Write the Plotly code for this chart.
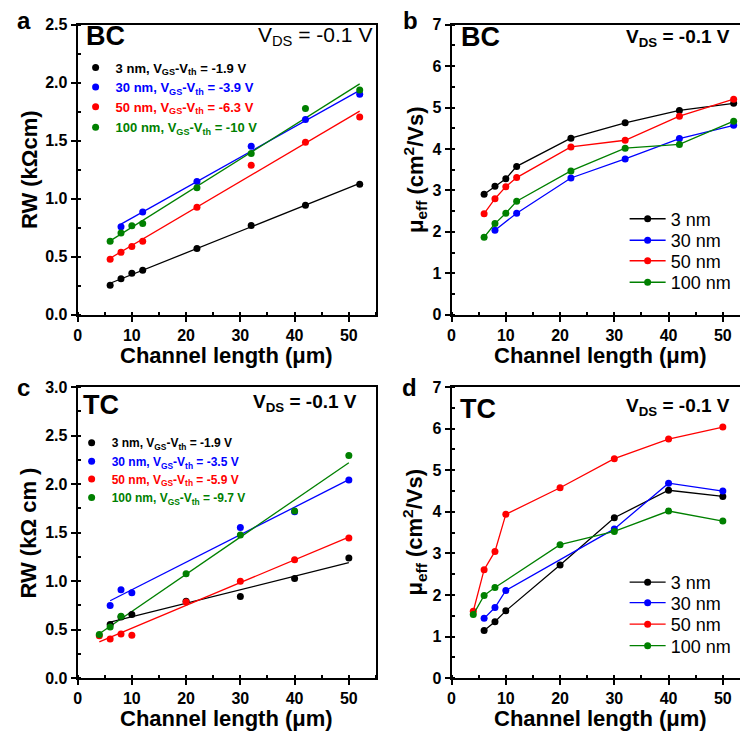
import numpy as np
import plotly.graph_objects as go

# ---------------- data ----------------
labels = ["3 nm", "30 nm", "50 nm", "100 nm"]
colors = ["#000000", "#0000FF", "#FF0000", "#008000"]

# panel a (BC, RW)
a_vgs = ["-1.9", "-3.9", "-6.3", "-10"]
a_x_black = [6, 8, 10, 12, 22, 32, 42, 52]
a_y_black = [0.255, 0.311, 0.358, 0.384, 0.571, 0.770, 0.943, 1.125]
a_x_blue = [8, 12, 22, 32, 42, 52]
a_y_blue = [0.759, 0.885, 1.148, 1.453, 1.683, 1.901]
a_x_red = [6, 8, 10, 12, 22, 32, 42, 52]
a_y_red = [0.479, 0.538, 0.588, 0.633, 0.927, 1.288, 1.487, 1.705]
a_x_green = [6, 8, 10, 12, 22, 32, 42, 52]
a_y_green = [0.633, 0.705, 0.767, 0.787, 1.095, 1.389, 1.778, 1.937]

# panel b (BC, mobility)
b_x_black = [6, 8, 10, 12, 22, 32, 42, 52]
b_y_black = [2.91, 3.10, 3.28, 3.58, 4.26, 4.63, 4.93, 5.10]
b_x_blue = [8, 12, 22, 32, 42, 52]
b_y_blue = [2.04, 2.45, 3.30, 3.76, 4.25, 4.57]
b_x_red = [6, 8, 10, 12, 22, 32, 42, 52]
b_y_red = [2.44, 2.80, 3.09, 3.31, 4.05, 4.21, 4.79, 5.20]
b_x_green = [6, 8, 10, 12, 22, 32, 42, 52]
b_y_green = [1.87, 2.20, 2.45, 2.74, 3.47, 4.02, 4.11, 4.67]

# panel c (TC, RW)
c_vgs = ["-1.9", "-3.5", "-5.9", "-9.7"]
c_x_black = [6, 8, 10, 20, 30, 40, 50]
c_y_black = [0.555, 0.63, 0.656, 0.794, 0.841, 1.029, 1.238]
c_x_blue = [6, 8, 10, 30, 40, 50]
c_y_blue = [0.750, 0.912, 0.881, 1.554, 1.715, 2.042]
c_x_red = [4, 6, 8, 10, 20, 30, 40, 50]
c_y_red = [0.437, 0.404, 0.457, 0.444, 0.785, 0.999, 1.221, 1.446]
c_x_green = [4, 6, 8, 20, 30, 40, 50]
c_y_green = [0.451, 0.528, 0.639, 1.076, 1.477, 1.722, 2.294]

# panel d (TC, mobility)
d_x_black = [6, 8, 10, 20, 30, 40, 50]
d_y_black = [1.15, 1.36, 1.62, 2.72, 3.86, 4.52, 4.37]
d_x_blue = [6, 8, 10, 30, 40, 50]
d_y_blue = [1.44, 1.70, 2.11, 3.59, 4.69, 4.50]
d_x_red = [4, 6, 8, 10, 20, 30, 40, 50]
d_y_red = [1.61, 2.61, 3.05, 3.94, 4.58, 5.28, 5.75, 6.04]
d_x_green = [4, 6, 8, 20, 30, 40, 50]
d_y_green = [1.53, 1.99, 2.18, 3.21, 3.53, 4.02, 3.78]

# ---------------- layout helpers ----------------
W = 740
FONT = "Arial, Liberation Sans, sans-serif"


def px(x):
    return x / W


def py(y):
    return 1 - y / W


fig = go.Figure()

panels = {
    "a": dict(xa="x", ya="y", xd=[px(74), px(374)], yd=[py(314), py(17)], xr=[0, 55], yr=[0, 2.5], dt=0.5, fmt=".1f", ymirror=True,
              leg0=1, lx=72, iw=30, rows=[61, 81, 101, 122], lfs=13),
    "b": dict(xa="x2", ya="y2", xd=[px(450), 1.0], yd=[py(314), py(17)], xr=[0, 290 / (300 / 55)], yr=[0, 7], dt=1, fmt="d", ymirror=False,
              leg0=5, lx=624, iw=36, rows=[216, 238, 259, 281], lfs=18),
    "c": dict(xa="x3", ya="y3", xd=[px(74), px(374)], yd=[py(686), py(388)], xr=[0, 55], yr=[0, 3], dt=0.5, fmt=".1f", ymirror=True,
              leg0=9, lx=68, iw=30, rows=[445, 464, 482, 501], lfs=12),
    "d": dict(xa="x4", ya="y4", xd=[px(450), 1.0], yd=[py(686), py(388)], xr=[0, 290 / (300 / 55)], yr=[0, 7], dt=1, fmt="d", ymirror=False,
              leg0=13, lx=624, iw=36, rows=[588, 609, 631, 653], lfs=18),
}


def legname(n):
    return "legend" if n == 1 else f"legend{n}"


def rw_name(i, v):
    return (f"<span style='color:{colors[i]}'><b>{labels[i]}, V<sub>GS</sub>-V<sub>th</sub> = {v} V</b></span>")


def add_rw(panel, xs, ys, vgs):
    p = panels[panel]
    # least-squares fit lines
    for i, (x, y) in enumerate(zip(xs, ys)):
        k, b0 = np.polyfit(x, y, 1)
        xf = np.array([min(x), max(x)])
        fig.add_trace(go.Scatter(x=xf, y=k * xf + b0, mode="lines", line=dict(color=colors[i], width=1.3),
                                 xaxis=p["xa"], yaxis=p["ya"], showlegend=False, hoverinfo="skip"))
    for i, (x, y) in enumerate(zip(xs, ys)):
        fig.add_trace(go.Scatter(x=x, y=y, mode="markers", marker=dict(color=colors[i], size=7),
                                 name=rw_name(i, vgs[i]), xaxis=p["xa"], yaxis=p["ya"],
                                 legend=legname(p["leg0"] + i)))


def add_mu(panel, xs, ys):
    p = panels[panel]
    for i, (x, y) in enumerate(zip(xs, ys)):
        fig.add_trace(go.Scatter(x=x, y=y, mode="lines+markers", marker=dict(color=colors[i], size=7),
                                 line=dict(color=colors[i], width=1.3),
                                 name=labels[i], xaxis=p["xa"], yaxis=p["ya"], legend=legname(p["leg0"] + i)))


add_rw("a", [a_x_black, a_x_blue, a_x_red, a_x_green], [a_y_black, a_y_blue, a_y_red, a_y_green], a_vgs)
add_mu("b", [b_x_black, b_x_blue, b_x_red, b_x_green], [b_y_black, b_y_blue, b_y_red, b_y_green])
add_rw("c", [c_x_black, c_x_blue, c_x_red, c_x_green], [c_y_black, c_y_blue, c_y_red, c_y_green], c_vgs)
add_mu("d", [d_x_black, d_x_blue, d_x_red, d_x_green], [d_y_black, d_y_blue, d_y_red, d_y_green])

tickfont = dict(family=FONT, size=16, color="black", weight="bold")
layout = dict(width=740, height=740, margin=dict(l=0, r=0, t=0, b=0),
              paper_bgcolor="white", plot_bgcolor="white", showlegend=True)

for key, p in panels.items():
    xname = "xaxis" + p["xa"][1:]
    yname = "yaxis" + p["ya"][1:]
    layout[xname] = dict(domain=p["xd"], range=p["xr"], anchor=p["ya"], dtick=10, tick0=0,
                         showline=True, linecolor="black", linewidth=2, mirror=True,
                         ticks="outside", ticklen=5, tickwidth=1.5, tickcolor="black",
                         minor=dict(dtick=5, ticks="inside", ticklen=3, tickwidth=1.5, tickcolor="black"),
                         showgrid=False, zeroline=False, tickfont=tickfont, fixedrange=True)
    layout[yname] = dict(domain=p["yd"], range=p["yr"], anchor=p["xa"], dtick=p["dt"], tick0=0,
                         tickformat=p["fmt"],
                         showline=True, linecolor="black", linewidth=2, mirror=p["ymirror"],
                         ticks="outside", ticklen=5, tickwidth=1.5, tickcolor="black",
                         minor=dict(dtick=p["dt"] / 2, ticks="inside", ticklen=3, tickwidth=1.5, tickcolor="black"),
                         showgrid=False, zeroline=False, tickfont=tickfont, fixedrange=True)
    for i, ry in enumerate(p["rows"]):
        layout[legname(p["leg0"] + i)] = dict(
            bgcolor="rgba(0,0,0,0)", borderwidth=0, xanchor="left", yanchor="middle",
            x=px(p["lx"]), y=py(ry), itemwidth=p["iw"],
            font=dict(family=FONT, size=p["lfs"], color="black"))

ann = []


def text(t, x, y, size, bold=True, xanchor="center", yanchor="middle", angle=0):
    ann.append(dict(text=t, x=px(x), y=py(y), xref="paper", yref="paper", showarrow=False,
                    xanchor=xanchor, yanchor=yanchor, textangle=angle,
                    font=dict(family=FONT, size=size, color="black", weight="bold" if bold else "normal")))


# panel letters
text("a", 20, 13, 24)
text("b", 409, 13, 24)
text("c", 20, 388, 24)
text("d", 408, 388, 24)
# labels inside
text("BC", 102, 29, 27)
text("BC", 479, 30, 27)
text("TC", 98, 406, 27)
text("TC", 477, 410, 27)
text("V<sub>DS</sub> = -0.1 V", 253, 29, 21, bold=False, xanchor="left")
text("V<sub>DS</sub> = -0.1 V", 623, 31, 19, xanchor="left")
text("V<sub>DS</sub> = -0.1 V", 248, 404, 19, xanchor="left")
text("V<sub>DS</sub> = -0.1 V", 623, 408, 19, xanchor="left")
# axis titles
for xc, yc in [(224, 356), (600, 356), (224, 727), (600, 727)]:
    text("Channel length (μm)", xc, yc, 22)
text("RW (kΩcm)", 25, 165, 22, angle=-90)
text("RW (kΩ cm )", 25, 537, 22, angle=-90)
text("μ<sub>eff</sub> (cm<sup>2</sup>/Vs)", 413, 166, 22, angle=-90)
text("μ<sub>eff</sub> (cm<sup>2</sup>/Vs)", 413, 537, 22, angle=-90)

layout["annotations"] = ann
fig.update_layout(**layout)
fig.write_html("out.html", config=dict(displayModeBar=False))
